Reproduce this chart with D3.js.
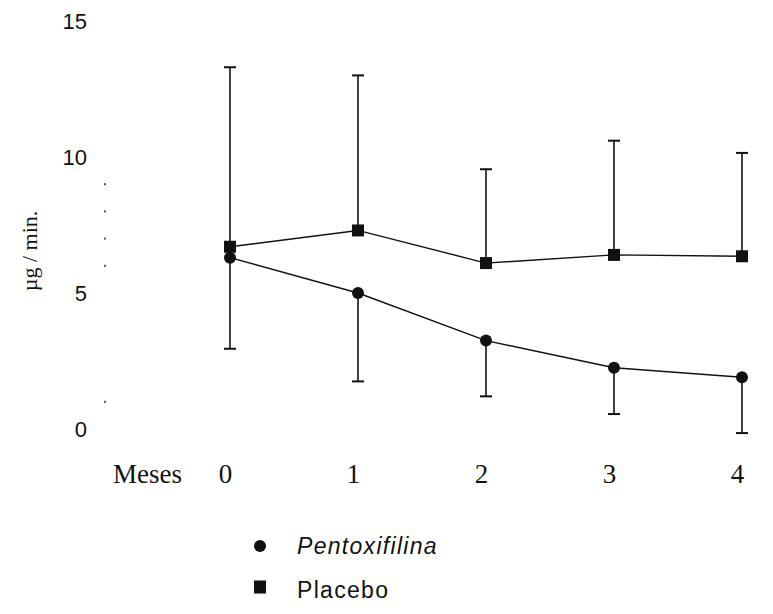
<!DOCTYPE html>
<html>
<head>
<meta charset="utf-8">
<script src="https://cdn.jsdelivr.net/npm/d3@7"></script>
<style>
  html, body { margin: 0; padding: 0; background: #fff; }
  svg { display: block; }
</style>
</head>
<body>
<svg id="chart" width="773" height="614"></svg>
<script>
// ---- data ----
const months = [0, 1, 2, 3, 4];
const pentoxifilina = [6.3, 5.0, 3.25, 2.25, 1.9];
const pentoxifilinaLower = [2.95, 1.75, 1.2, 0.55, -0.15];
const placebo = [6.7, 7.3, 6.1, 6.4, 6.35];
const placeboUpper = [13.3, 13.0, 9.55, 10.6, 10.15];
const yTicks = [0, 5, 10, 15];
const yMinorMarks = [1, 6, 7, 8, 9];
const xAxisTitle = "Meses";
const yAxisTitle = "µg / min.";
const legendItems = ["Pentoxifilina", "Placebo"];

// ---- layout ----
const svg = d3.select("#chart");
const x = d3.scaleLinear().domain([0, 4]).range([230, 742]);
const y = d3.scaleLinear().domain([0, 15]).range([429, 21]);
const ink = "#111";

// y axis (labels only)
const yAxis = d3.axisLeft(y).tickValues(yTicks).tickSize(0).tickPadding(18);
const gy = svg.append("g").attr("transform", "translate(105,0)").call(yAxis);
gy.select(".domain").remove();
gy.selectAll("text")
  .attr("font-family", "'Liberation Sans', Arial, sans-serif")
  .attr("font-size", 22)
  .attr("fill", ink);

// faint minor marks left on the y axis
svg.append("g").selectAll("rect").data(yMinorMarks).join("rect")
  .attr("x", 104).attr("y", d => y(d) - 1)
  .attr("width", 2).attr("height", 2)
  .attr("fill", "#555");

// x axis (labels only)
const xAxis = d3.axisBottom(x).tickValues(months).tickFormat(d3.format("d")).tickSize(0).tickPadding(0);
const gx = svg.append("g").attr("transform", "translate(-5,483)").call(xAxis);
gx.select(".domain").remove();
gx.selectAll("text")
  .attr("dy", 0)
  .attr("font-family", "'Liberation Serif', 'Times New Roman', serif")
  .attr("font-size", 27)
  .attr("fill", ink);

svg.append("text")
  .attr("x", 113).attr("y", 483)
  .attr("font-family", "'Liberation Serif', 'Times New Roman', serif")
  .attr("font-size", 27)
  .attr("fill", ink)
  .text(xAxisTitle);

svg.append("text")
  .attr("transform", "translate(37,251) rotate(-90)")
  .attr("text-anchor", "middle")
  .attr("font-family", "'Liberation Serif', 'Times New Roman', serif")
  .attr("font-size", 22)
  .attr("fill", ink)
  .text(yAxisTitle);

// error bars
const cap = 6;
function errorBars(vals, ends) {
  const g = svg.append("g").attr("stroke", ink).attr("stroke-width", 1.6).attr("fill", "none");
  g.selectAll("line.v").data(months).join("line")
    .attr("class", "v")
    .attr("x1", (d) => x(d)).attr("x2", (d) => x(d))
    .attr("y1", (d, i) => y(vals[i])).attr("y2", (d, i) => y(ends[i]));
  g.selectAll("line.c").data(months).join("line")
    .attr("class", "c")
    .attr("x1", (d) => x(d) - cap).attr("x2", (d) => x(d) + cap)
    .attr("y1", (d, i) => y(ends[i])).attr("y2", (d, i) => y(ends[i]))
    .attr("stroke-width", 2);
}
errorBars(placebo, placeboUpper);
errorBars(pentoxifilina, pentoxifilinaLower);

// lines
const line = d3.line().x((d, i) => x(months[i])).y(d => y(d));
svg.append("path").datum(placebo).attr("d", line)
  .attr("fill", "none").attr("stroke", ink).attr("stroke-width", 1.4);
svg.append("path").datum(pentoxifilina).attr("d", line)
  .attr("fill", "none").attr("stroke", ink).attr("stroke-width", 1.4);

// markers
const sq = 12;
svg.append("g").selectAll("rect").data(placebo).join("rect")
  .attr("x", (d, i) => x(months[i]) - sq / 2)
  .attr("y", d => y(d) - sq / 2)
  .attr("width", sq).attr("height", sq)
  .attr("fill", ink);
svg.append("g").selectAll("circle").data(pentoxifilina).join("circle")
  .attr("cx", (d, i) => x(months[i]))
  .attr("cy", d => y(d))
  .attr("r", 6)
  .attr("fill", ink);

// legend
const legend = svg.append("g");
const ly = [546, 587];
legend.append("circle").attr("cx", 260).attr("cy", ly[0]).attr("r", 6).attr("fill", ink);
legend.append("rect").attr("x", 254).attr("y", ly[1] - 6.5).attr("width", 12).attr("height", 13).attr("fill", ink);
legend.selectAll("text").data(legendItems).join("text")
  .attr("x", 297)
  .attr("y", (d, i) => ly[i] + (i === 0 ? 8 : 11))
  .attr("font-family", "'Liberation Sans', Arial, sans-serif")
  .attr("font-size", 23)
  .attr("letter-spacing", 1.3)
  .attr("font-style", (d, i) => i === 0 ? "italic" : "normal")
  .attr("fill", ink)
  .text(d => d);
</script>
</body>
</html>
